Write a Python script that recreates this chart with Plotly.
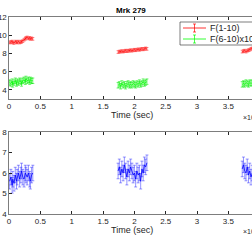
import plotly.graph_objects as go
from plotly.subplots import make_subplots

# Time (x 10^4 sec) for the three observation blocks
t1 = [0.01,0.03,0.05,0.06,0.08,0.10,0.12,0.13,0.15,0.17,0.19,0.20,0.22,0.24,0.26,0.27,0.29,0.31,0.33,0.34,0.36,0.38]
t2 = [1.74,1.76,1.78,1.80,1.82,1.84,1.86,1.88,1.90,1.92,1.94,1.96,1.98,2.00,2.02,2.04,2.06,2.08,2.10,2.12,2.14,2.16,2.18,2.20]
t3 = [3.72,3.74,3.76,3.78,3.80,3.82,3.84,3.86,3.88,3.90,3.92]

# F(1-10)
red1 = [9.2,9.25,9.3,9.2,9.15,9.3,9.25,9.2,9.3,9.2,9.25,9.3,9.35,9.5,9.6,9.7,9.75,9.65,9.7,9.6,9.65,9.6]
red2 = [8.15,8.2,8.2,8.25,8.2,8.25,8.3,8.25,8.3,8.3,8.35,8.3,8.35,8.4,8.35,8.4,8.45,8.4,8.45,8.5,8.45,8.5,8.55,8.5]
red3 = [8.2,8.25,8.3,8.2,8.3,8.35,8.4,8.5,8.55,8.65,8.75]
red_err = 0.15

# F(6-10) x 10
grn1 = [4.8,4.7,4.9,4.6,4.8,5.0,4.7,4.9,4.8,5.0,4.9,4.7,5.0,5.1,4.9,5.2,5.0,5.1,4.9,5.1,5.0,5.0]
grn2 = [4.5,4.6,4.4,4.7,4.5,4.6,4.4,4.6,4.7,4.5,4.6,4.5,4.7,4.6,4.5,4.7,4.6,4.8,4.6,4.7,4.9,4.7,4.8,4.9]
grn3 = [4.6,4.7,4.6,4.8,4.7,4.6,4.8,4.7,4.8,4.7,4.8]
grn_err = 0.3

# bottom panel
blu1 = [5.6,5.8,5.4,5.7,5.5,5.9,5.6,5.8,6.0,5.7,5.9,6.1,5.8,5.7,6.0,5.9,5.8,6.0,5.7,5.6,5.9,6.0]
blu2 = [6.1,6.3,5.9,6.2,6.0,6.4,6.1,5.8,6.2,6.0,6.3,6.1,5.9,6.0,5.7,6.1,5.9,6.0,5.6,6.2,6.0,6.4,6.3,6.5]
blu3 = [6.2,6.4,6.1,6.0,6.3,5.9,6.1,5.8,6.0,5.9,6.1]
blu_err = 0.38

x_ticks = [0, 0.5, 1, 1.5, 2, 2.5, 3, 3.5]
x_tick_text = ["0", "0.5", "1", "1.5", "2", "2.5", "3", "3.5"]
top_yticks = [4, 6, 8, 10, 12]
bot_yticks = [4, 5, 6, 7, 8]
legend_names = ["F(1-10)", "F(6-10)x10"]

RED = "rgb(255,0,0)"
GRN = "rgb(0,255,0)"
BLU = "rgb(0,0,255)"


def join(a, b, c):
    return a + [None] + b + [None] + c


def err(vals, e):
    return [None if v is None else e for v in vals]


t = join(t1, t2, t3)
red = join(red1, red2, red3)
grn = join(grn1, grn2, grn3)
blu = join(blu1, blu2, blu3)

fig = make_subplots(rows=2, cols=1, vertical_spacing=0.168)

FONT = "Liberation Sans"
AX = "#262626"

fig.add_trace(go.Scatter(x=t, y=red, mode="lines", name=legend_names[0], showlegend=False,
                         line=dict(color=RED, width=0.8),
                         error_y=dict(type="data", array=err(red, red_err), color="rgba(255,40,40,0.8)",
                                      thickness=0.7, width=1.5)), row=1, col=1)
fig.add_trace(go.Scatter(x=t, y=grn, mode="lines", name=legend_names[1], showlegend=False,
                         line=dict(color=GRN, width=0.8),
                         error_y=dict(type="data", array=err(grn, grn_err), color="rgba(0,235,0,0.8)",
                                      thickness=0.7, width=1.5)), row=1, col=1)
fig.add_trace(go.Scatter(x=t, y=blu, mode="lines", name="blue", showlegend=False,
                         line=dict(color=BLU, width=0.8),
                         error_y=dict(type="data", array=err(blu, blu_err), color="rgba(40,40,255,0.7)",
                                      thickness=0.7, width=1.5)), row=2, col=1)

common_x = dict(range=[0, 3.876], tickvals=x_ticks, ticktext=x_tick_text, ticks="inside", ticklen=3,
                tickcolor=AX, showline=True, linecolor=AX, linewidth=0.6, mirror="ticks",
                showgrid=False, zeroline=False, automargin=False,
                tickfont=dict(family=FONT, size=8, color=AX))
fig.update_xaxes(**common_x)
common_y = dict(ticks="inside", ticklen=3, tickcolor=AX, showline=True, linecolor=AX, linewidth=0.6,
                showgrid=False, zeroline=False, automargin=False,
                tickfont=dict(family=FONT, size=8, color=AX))
fig.update_yaxes(range=[3, 12], tickvals=top_yticks, row=1, col=1, **common_y)
fig.update_yaxes(range=[4, 8], tickvals=bot_yticks, row=2, col=1, **common_y)

fig.update_layout(
    template="none",
    width=252, height=242,
    margin=dict(l=9, r=0, t=17, b=28, autoexpand=False),
    paper_bgcolor="white", plot_bgcolor="white",
    font=dict(family=FONT, size=8, color=AX),
    showlegend=False,
)

H = 197.0
W = 243.0


def py(px):
    return (214 - px) / H


def pxx(px):
    return (px - 9) / W


def label(text, x, y, size, color=AX, xanchor="center"):
    fig.add_annotation(text=text, x=pxx(x), y=py(y), xref="paper", yref="paper",
                       xanchor=xanchor, yanchor="middle", showarrow=False,
                       font=dict(family=FONT, size=size, color=color))


label("<b>Mrk 279</b>", 131, 10, 8, color="black")
label("Time (sec)", 132, 115, 9)
label("Time (sec)", 132, 230, 9)
label("×10<sup>4</sup>", 241, 117, 7, xanchor="left")
label("×10<sup>4</sup>", 241, 231, 7, xanchor="left")

# hand-drawn legend (MATLAB style with error-bar icons)
fig.add_shape(type="rect", xref="paper", yref="paper", x0=pxx(180), x1=pxx(262), y0=py(45), y1=py(22),
              line=dict(color=AX, width=0.6), fillcolor="white", layer="above")
for i, (name, col) in enumerate(zip(legend_names, [RED, GRN])):
    yc = 28 + i * 11
    fig.add_shape(type="line", xref="paper", yref="paper", x0=pxx(183), x1=pxx(206), y0=py(yc), y1=py(yc),
                  line=dict(color=col, width=0.8), layer="above")
    fig.add_shape(type="line", xref="paper", yref="paper", x0=pxx(194.5), x1=pxx(194.5), y0=py(yc - 4), y1=py(yc + 4),
                  line=dict(color=col, width=0.7), layer="above")
    for dy in (-4, 4):
        fig.add_shape(type="line", xref="paper", yref="paper", x0=pxx(193), x1=pxx(196),
                      y0=py(yc + dy), y1=py(yc + dy), line=dict(color=col, width=0.7), layer="above")
    label(name, 208, yc, 9, xanchor="left")

fig.write_html("out.html", config={"displayModeBar": False, "staticPlot": True},
               post_script="document.body.style.margin='0';document.body.style.overflow='hidden';")
